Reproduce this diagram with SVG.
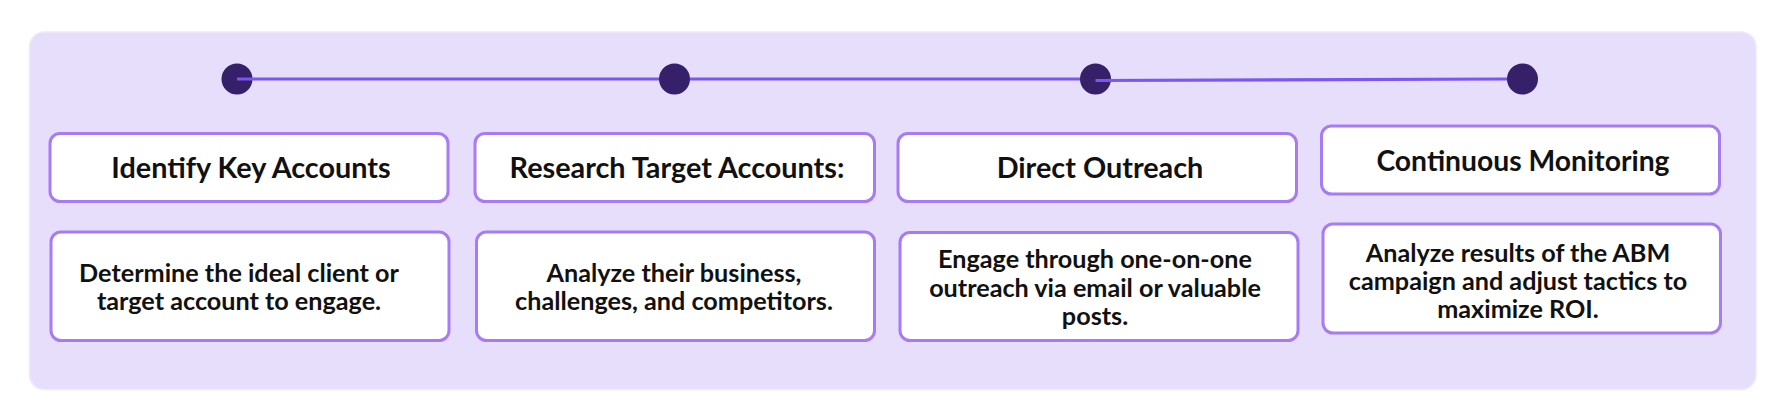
<svg xmlns="http://www.w3.org/2000/svg" width="1776" height="406" viewBox="0 0 1776 406">
<style>
.panel{fill:#E6DEFB;stroke:#EEE9FC;stroke-width:1.5}
.box{fill:#FFFFFF;stroke:#A77BF3;stroke-width:3}
.dot{fill:#352069}
.conn{stroke:#7B56F2;stroke-width:3.2;fill:none}
.h{font-family:Lato,"Liberation Sans",sans-serif;font-weight:700;font-size:28.8px;fill:#111111;text-anchor:middle}
.d{font-family:Lato,"Liberation Sans",sans-serif;font-weight:700;font-size:25.2px;fill:#111111;text-anchor:middle}
</style>
<rect class="panel" x="29.5" y="32" width="1726.5" height="357.5" rx="15"/>
<g id="dot1"><circle class="dot" cx="237" cy="79" r="15.5"/></g>
<g id="dot2"><circle class="dot" cx="674.5" cy="79" r="15.5"/></g>
<g id="dot3"><circle class="dot" cx="1095.5" cy="79" r="15.5"/></g>
<g id="dot4"><circle class="dot" cx="1522.5" cy="79" r="15.5"/></g>
<g id="connectors">
<line class="conn" x1="237" y1="79" x2="659" y2="79"/>
<line class="conn" x1="690" y1="79" x2="1080" y2="79"/>
<line class="conn" x1="1095.5" y1="80.5" x2="1507" y2="79"/>
</g>
<g id="step1-title"><rect class="box" x="50" y="133.5" width="398" height="68" rx="10"/><text class="h" x="251" y="178">Identify Key Accounts</text></g>
<g id="step2-title"><rect class="box" x="475" y="133.5" width="399.5" height="68" rx="10"/><text class="h" x="677" y="178">Research Target Accounts:</text></g>
<g id="step3-title"><rect class="box" x="898" y="133.5" width="398.5" height="68" rx="10"/><text class="h" x="1100" y="178">Direct Outreach</text></g>
<g id="step4-title"><rect class="box" x="1321.5" y="126" width="398" height="68" rx="10"/><text class="h" x="1523" y="170.5" style="font-size:28.3px">Continuous Monitoring</text></g>
<g id="step1-desc"><rect class="box" x="51" y="232" width="398" height="108.5" rx="10"/><text class="d" x="239" y="282.3">Determine the ideal client or</text><text class="d" x="239" y="310.3">target account to engage.</text></g>
<g id="step2-desc"><rect class="box" x="476.5" y="232" width="398" height="108.5" rx="10"/><text class="d" x="674" y="282.3">Analyze their business,</text><text class="d" x="674" y="310.3">challenges, and competitors.</text></g>
<g id="step3-desc"><rect class="box" x="900" y="232.5" width="398" height="108" rx="10"/><text class="d" x="1095" y="268.3">Engage through one-on-one</text><text class="d" x="1095" y="296.8">outreach via email or valuable</text><text class="d" x="1095" y="325.3">posts.</text></g>
<g id="step4-desc"><rect class="box" x="1323" y="224" width="397.5" height="109" rx="10"/><text class="d" x="1518" y="261.7">Analyze results of the ABM</text><text class="d" x="1518" y="290">campaign and adjust tactics to</text><text class="d" x="1518" y="318.3">maximize ROI.</text></g>
</svg>
